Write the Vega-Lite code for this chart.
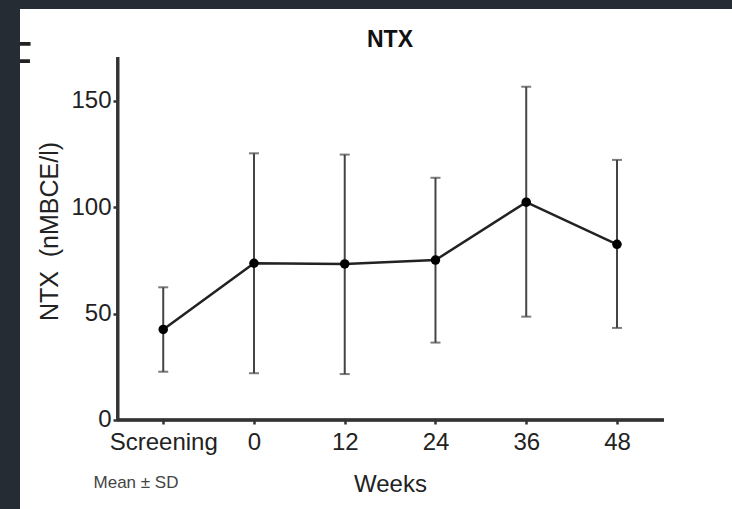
{
  "$schema": "https://vega.github.io/schema/vega-lite/v6.json",
  "width": 712,
  "height": 500,
  "autosize": {"type": "none"},
  "padding": {"left": 20, "top": 9, "right": 0, "bottom": 0},
  "background": "#262c34",
  "config": {
    "view": {"fill": "white", "stroke": null},
    "font": "Liberation Sans"
  },
  "title": {
    "text": "NTX",
    "fontSize": 23,
    "fontWeight": "bold",
    "color": "#111111",
    "anchor": "middle",
    "offset": 0,
    "baseline": "alphabetic",
    "dx": 14,
    "dy": 61
  },
  "data": {
    "values": [
      {"week": -12, "mean": 42.6, "lo": 22.7, "hi": 62.4},
      {"week": 0, "mean": 73.7, "lo": 22.0, "hi": 125.4},
      {"week": 12, "mean": 73.4, "lo": 21.6, "hi": 124.8},
      {"week": 24, "mean": 75.2, "lo": 36.4, "hi": 113.9},
      {"week": 36, "mean": 102.4, "lo": 48.6, "hi": 156.7},
      {"week": 48, "mean": 82.6, "lo": 43.3, "hi": 122.3}
    ]
  },
  "layer": [
    {
      "mark": {"type": "rule", "color": "#333333", "strokeWidth": 2.5},
      "encoding": {
        "x": {
          "datum": -18,
          "type": "quantitative",
          "scale": {"domain": [-30.94, 63.21], "nice": false, "zero": false},
          "axis": {
            "values": [-12, 0, 12, 24, 36, 48],
            "labelExpr": "datum.value == -12 ? 'Screening' : datum.label",
            "domain": false,
            "grid": false,
            "offset": -89,
            "tickSize": 4,
            "tickWidth": 2.5,
            "tickColor": "#333333",
            "labelFontSize": 24,
            "labelColor": "#222222",
            "labelPadding": 6,
            "labelFlush": false,
            "labelOverlap": false,
            "title": "Weeks",
            "titleFontSize": 24,
            "titleFontWeight": "normal",
            "titleColor": "#222222",
            "titleX": 370,
            "titleY": 71,
            "titleBaseline": "alphabetic",
            "titleAlign": "center"
          }
        },
        "x2": {"datum": 54.2},
        "y": {
          "datum": 0,
          "type": "quantitative",
          "scale": {"domain": [-41.85, 193.26], "nice": false, "zero": false},
          "axis": {
            "values": [0, 50, 100, 150],
            "domain": false,
            "grid": false,
            "offset": -98,
            "tickSize": 5,
            "tickWidth": 2.5,
            "tickColor": "#333333",
            "labelFontSize": 24,
            "labelColor": "#222222",
            "labelPadding": 2,
            "labelFlush": false,
            "labelOverlap": false,
            "title": "NTX\u00a0\u00a0(nMBCE/l)",
            "titleFontSize": 25,
            "titleFontWeight": "normal",
            "titleColor": "#222222",
            "titleAngle": -90,
            "titleX": -61,
            "titleY": 222,
            "titleBaseline": "alphabetic",
            "titleAlign": "center"
          }
        }
      }
    },
    {
      "mark": {"type": "rule", "color": "#333333", "strokeWidth": 2.5},
      "encoding": {
        "x": {"datum": -18, "type": "quantitative"},
        "y": {"datum": 0, "type": "quantitative"},
        "y2": {"datum": 170.7}
      }
    },
    {
      "mark": {"type": "rule", "color": "#444444", "strokeWidth": 2},
      "encoding": {
        "x": {"field": "week", "type": "quantitative"},
        "y": {"field": "lo", "type": "quantitative"},
        "y2": {"field": "hi"}
      }
    },
    {
      "mark": {"type": "tick", "orient": "horizontal", "color": "#444444", "size": 10, "thickness": 2},
      "encoding": {
        "x": {"field": "week", "type": "quantitative"},
        "y": {"field": "hi", "type": "quantitative"}
      }
    },
    {
      "mark": {"type": "tick", "orient": "horizontal", "color": "#444444", "size": 10, "thickness": 2},
      "encoding": {
        "x": {"field": "week", "type": "quantitative"},
        "y": {"field": "lo", "type": "quantitative"}
      }
    },
    {
      "mark": {"type": "line", "color": "#222222", "strokeWidth": 2.5},
      "encoding": {
        "x": {"field": "week", "type": "quantitative"},
        "y": {"field": "mean", "type": "quantitative"}
      }
    },
    {
      "mark": {"type": "point", "filled": true, "color": "#000000", "opacity": 1, "size": 90},
      "encoding": {
        "x": {"field": "week", "type": "quantitative"},
        "y": {"field": "mean", "type": "quantitative"}
      }
    },
    {
      "data": {"values": [{"note": "Mean ± SD"}]},
      "mark": {"type": "text", "fontSize": 17, "color": "#444444", "align": "center", "baseline": "alphabetic"},
      "encoding": {
        "x": {"datum": -15.6, "type": "quantitative"},
        "y": {"datum": -32, "type": "quantitative"},
        "text": {"field": "note"}
      }
    },
    {
      "data": {"values": [{"panel": "F"}]},
      "mark": {"type": "text", "fontSize": 50, "color": "#222222", "align": "left", "baseline": "alphabetic", "clip": true},
      "encoding": {
        "x": {"datum": -33.32, "type": "quantitative"},
        "y": {"datum": 161.4, "type": "quantitative"},
        "text": {"field": "panel"}
      }
    }
  ]
}
